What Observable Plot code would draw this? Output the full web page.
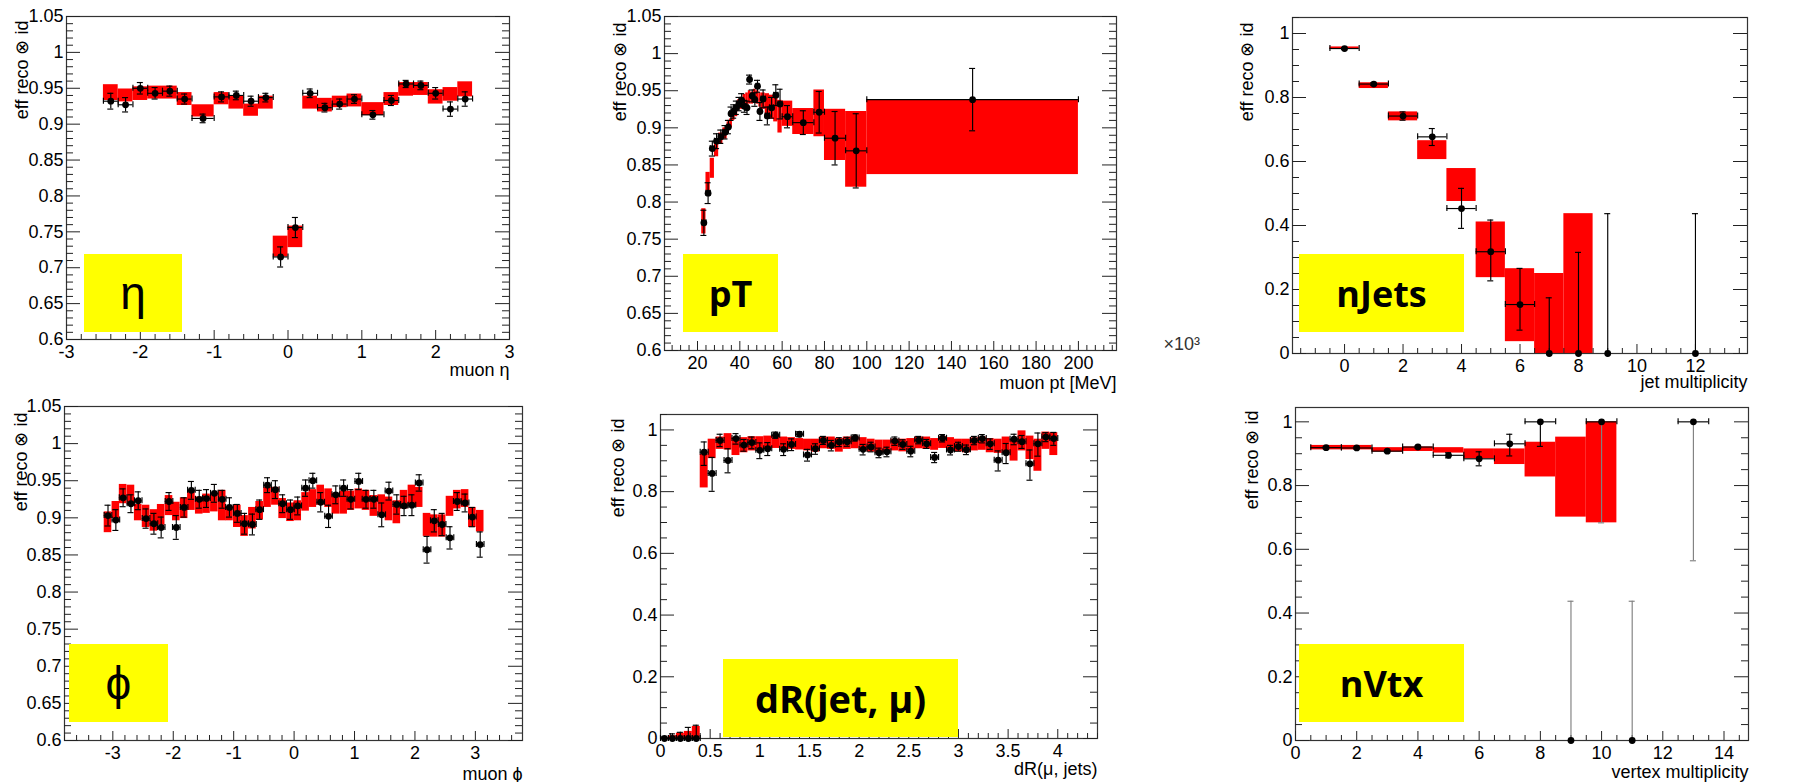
<!DOCTYPE html>
<html><head><meta charset="utf-8">
<script src="https://cdn.jsdelivr.net/npm/d3@7"></script>
<script src="https://cdn.jsdelivr.net/npm/@observablehq/plot@0.6"></script>
<style>
body{margin:0;background:#fff;}
#wrap{position:relative;width:1805px;height:782px;overflow:hidden;background:#fff;}
.pn{position:absolute;}
.tag{position:absolute;background:#ffff00;display:flex;align-items:center;justify-content:center;color:#000;z-index:5;}
.tag.w{font-family:"Open Sans",sans-serif;font-weight:700;font-size:36px;}
.tag.g{font-family:"Liberation Sans",sans-serif;font-size:46px;}
</style></head><body><div id="wrap"></div>
<script>
// ---------- eta ----------
const etaEdges = [-2.5,-2.3,-2.1,-1.9,-1.7,-1.5,-1.3,-1.0,-0.8,-0.6,-0.4,-0.2,0,0.2,0.4,0.6,0.8,1.0,1.3,1.5,1.7,1.9,2.1,2.3,2.5];
const etaBandLo = [0.933,0.931,0.933,0.935,0.935,0.926,0.910,0.927,0.921,0.911,0.921,0.715,0.728,0.921,0.917,0.923,0.924,0.912,0.926,0.939,0.940,0.928,0.932,0.938];
const etaBandHi = [0.955,0.949,0.952,0.953,0.953,0.944,0.927,0.944,0.939,0.928,0.939,0.744,0.758,0.939,0.936,0.939,0.942,0.930,0.944,0.958,0.958,0.948,0.951,0.959];
const etaVal = [0.932,0.927,0.950,0.943,0.946,0.935,0.908,0.938,0.940,0.932,0.937,0.715,0.756,0.943,0.923,0.928,0.935,0.913,0.933,0.956,0.954,0.943,0.921,0.935];
const etaErr = [0.011,0.010,0.008,0.008,0.007,0.007,0.006,0.007,0.006,0.007,0.006,0.014,0.014,0.006,0.006,0.007,0.006,0.006,0.007,0.005,0.006,0.008,0.010,0.010];

// ---------- pT (x in units of 10^3 MeV) ----------
const ptEdges = [22,24,26,28,30,32,34,35.2,36.5,37.7,39,40.2,41.5,42.8,44,45.2,46.5,47.7,49,50,52,54,56,58,60,65,75,80,90,100,200];
const ptBandLo = [0.757,0.815,0.832,0.861,0.878,0.885,0.895,0.900,0.910,0.915,0.925,0.925,0.928,0.930,0.932,0.932,0.935,0.932,0.928,0.925,0.915,0.912,0.908,0.893,0.902,0.891,0.888,0.856,0.820,0.837];
const ptBandHi = [0.791,0.840,0.859,0.883,0.893,0.900,0.908,0.912,0.925,0.930,0.938,0.941,0.945,0.947,0.950,0.948,0.952,0.950,0.947,0.947,0.946,0.944,0.944,0.937,0.936,0.926,0.951,0.925,0.922,0.938];
const ptVal = [0.772,0.812,0.872,0.882,0.888,0.894,0.901,0.919,0.922,0.927,0.932,0.937,0.929,0.927,0.965,0.943,0.938,0.956,0.922,0.939,0.916,0.927,0.944,0.932,0.915,0.907,0.921,0.886,0.869,0.938];
const ptErr = [0.017,0.014,0.010,0.010,0.009,0.009,0.009,0.009,0.009,0.009,0.009,0.009,0.008,0.009,0.006,0.008,0.009,0.008,0.012,0.012,0.012,0.014,0.014,0.020,0.015,0.016,0.028,0.036,0.050,0.042];

// ---------- nJets ----------
const njBandX = [0,1,2,3,4,5,6,7,8];
const njBandLo = [0.951,0.828,0.727,0.606,0.475,0.237,0.037,0,0];
const njBandHi = [0.958,0.846,0.755,0.665,0.578,0.411,0.265,0.250,0.437];
const njX = [0,1,2,3,4,5,6,7,8,9,12];
const njVal = [0.953,0.842,0.742,0.677,0.453,0.318,0.153,0,0,0,0];
const njErrLo = [0.003,0.004,0.013,0.027,0.062,0.091,0.080,0,0,0,0];
const njErrHi = [0.003,0.004,0.013,0.026,0.063,0.099,0.113,0.174,0.316,0.437,0.437];
const njXErr = [0.5,0.5,0.5,0.5,0.5,0.5,0.5,0,0,0,0];

// ---------- phi ----------
const phiX = [-3.08,-2.95,-2.83,-2.70,-2.58,-2.45,-2.32,-2.20,-2.07,-1.95,-1.82,-1.70,-1.57,-1.45,-1.32,-1.19,-1.07,-0.94,-0.82,-0.69,-0.57,-0.44,-0.31,-0.19,-0.06,0.06,0.19,0.31,0.44,0.57,0.69,0.82,0.94,1.07,1.19,1.32,1.45,1.57,1.70,1.82,1.95,2.07,2.20,2.32,2.45,2.58,2.70,2.83,2.95,3.08];
const phiHalf = 0.0628;
const phiBandLo = [0.880,0.899,0.919,0.917,0.896,0.887,0.882,0.890,0.903,0.896,0.899,0.910,0.905,0.906,0.908,0.896,0.896,0.887,0.875,0.885,0.897,0.914,0.917,0.899,0.895,0.896,0.909,0.914,0.917,0.914,0.905,0.905,0.910,0.912,0.910,0.902,0.904,0.896,0.892,0.912,0.917,0.914,0.875,0.874,0.874,0.902,0.912,0.914,0.887,0.881];
const phiBandHi = [0.908,0.922,0.945,0.944,0.918,0.917,0.911,0.918,0.930,0.921,0.927,0.936,0.928,0.932,0.933,0.937,0.915,0.917,0.903,0.914,0.922,0.941,0.941,0.926,0.920,0.923,0.934,0.938,0.944,0.939,0.933,0.936,0.936,0.939,0.937,0.930,0.931,0.928,0.923,0.937,0.944,0.941,0.906,0.904,0.904,0.929,0.937,0.938,0.914,0.910];
const phiVal = [0.903,0.897,0.927,0.919,0.923,0.899,0.892,0.887,0.922,0.887,0.914,0.937,0.925,0.926,0.933,0.925,0.914,0.906,0.892,0.891,0.911,0.944,0.938,0.919,0.911,0.916,0.940,0.950,0.921,0.902,0.931,0.940,0.925,0.949,0.925,0.925,0.904,0.936,0.918,0.916,0.917,0.947,0.857,0.896,0.891,0.873,0.922,0.920,0.901,0.864];
const phiErr = [0.014,0.014,0.012,0.012,0.012,0.013,0.014,0.014,0.012,0.016,0.013,0.012,0.012,0.012,0.012,0.012,0.013,0.012,0.014,0.014,0.013,0.010,0.012,0.012,0.013,0.012,0.011,0.010,0.013,0.015,0.012,0.011,0.013,0.011,0.012,0.012,0.016,0.012,0.013,0.013,0.014,0.011,0.018,0.015,0.015,0.015,0.012,0.012,0.013,0.017];

// ---------- dR ----------
const dRX = [0.04,0.12,0.2,0.28,0.36,0.44,0.52,0.6,0.68,0.76,0.84,0.92,1.0,1.08,1.16,1.24,1.32,1.4,1.48,1.56,1.64,1.72,1.8,1.88,1.96,2.04,2.12,2.2,2.28,2.36,2.44,2.52,2.6,2.68,2.76,2.84,2.92,3.0,3.08,3.16,3.24,3.32,3.4,3.48,3.56,3.64,3.72,3.8,3.88,3.96];
const dRHalf = 0.04;
const dRBandLo = [0,0,0,0,0,0.812,0.907,0.937,0.935,0.917,0.926,0.932,0.935,0.937,0.940,0.939,0.937,0.935,0.932,0.928,0.939,0.937,0.928,0.937,0.939,0.935,0.928,0.926,0.926,0.932,0.929,0.933,0.939,0.937,0.934,0.940,0.937,0.929,0.926,0.932,0.934,0.926,0.924,0.926,0.899,0.932,0.904,0.866,0.937,0.917];
const dRBandHi = [0.003,0.009,0.017,0.023,0.039,0.921,0.970,0.977,0.988,0.975,0.975,0.978,0.978,0.980,0.980,0.977,0.975,0.972,0.970,0.970,0.977,0.977,0.972,0.977,0.978,0.975,0.970,0.967,0.967,0.970,0.970,0.972,0.977,0.977,0.972,0.978,0.975,0.970,0.970,0.974,0.977,0.972,0.970,0.977,0.970,0.997,0.980,0.970,0.993,0.991];
const dRVal = [0,0,0,0,0,0.928,0.859,0.966,0.901,0.972,0.951,0.959,0.934,0.939,0.983,0.937,0.953,0.986,0.919,0.939,0.966,0.950,0.961,0.962,0.974,0.937,0.945,0.926,0.929,0.964,0.953,0.931,0.967,0.955,0.911,0.973,0.935,0.946,0.936,0.966,0.972,0.955,0.902,0.926,0.970,0.962,0.890,0.955,0.977,0.972];
const dRErrLo = [0,0,0,0,0,0.043,0.058,0.020,0.040,0.018,0.020,0.020,0.027,0.022,0.010,0.020,0.020,0.008,0.020,0.018,0.013,0.018,0.015,0.015,0.010,0.018,0.016,0.016,0.016,0.014,0.016,0.018,0.012,0.015,0.017,0.012,0.016,0.015,0.016,0.014,0.014,0.018,0.035,0.035,0.018,0.022,0.053,0.040,0.015,0.022];
const dRErrHi = [0.005,0.015,0.020,0.036,0.043,0.033,0.052,0.020,0.038,0.016,0.018,0.018,0.024,0.020,0.010,0.018,0.018,0.008,0.018,0.016,0.013,0.016,0.014,0.014,0.010,0.016,0.015,0.015,0.015,0.013,0.015,0.016,0.012,0.014,0.016,0.012,0.015,0.014,0.015,0.013,0.013,0.016,0.030,0.030,0.016,0.020,0.045,0.035,0.014,0.020];

// ---------- nVtx ----------
const nvBandX = [1,2,3,4,5,6,7,8,9,10];
const nvBandLo = [0.912,0.912,0.905,0.907,0.902,0.884,0.866,0.827,0.701,0.683];
const nvBandHi = [0.926,0.926,0.919,0.921,0.919,0.915,0.915,0.936,0.952,1.0];
const nvX = [1,2,3,4,5,6,7,8,9,10,11,13];
const nvVal = [0.919,0.918,0.908,0.921,0.895,0.884,0.931,1.0,0,1.0,0,1.0];
const nvErrLo = [0.003,0.003,0.003,0.003,0.008,0.022,0.038,0.077,0,0.317,0,0.436];
const nvErrHi = [0.003,0.003,0.003,0.003,0.008,0.022,0.030,0,0.437,0,0.437,0];
const nvXErr = [0.5,0.5,0.5,0.5,0.5,0.5,0.5,0.5,0,0.5,0,0.5];

// ---------- tick labels ----------
const yTicksFine = [0.6,0.65,0.7,0.75,0.8,0.85,0.9,0.95,1,1.05];
const yTicksUnit = [0,0.2,0.4,0.6,0.8,1];
const etaTicks = [-3,-2,-1,0,1,2,3];
const ptTicks = [20,40,60,80,100,120,140,160,180,200];
const njTicks = [0,2,4,6,8,10,12];
const phiTicks = [-3,-2,-1,0,1,2,3];
const dRTicks = [0,0.5,1,1.5,2,2.5,3,3.5,4];
const nvTicks = [0,2,4,6,8,10,12,14];
const yTitle = "eff reco \u2297 id";

const FONT = '"Liberation Sans", Arial, Helvetica, sans-serif';
const fmt = d => String(Math.round(d * 1000) / 1000);

function edgeBands(edges, lo, hi) {
  return lo.map((l, i) => ({x1: edges[i], x2: edges[i + 1], lo: l, hi: hi[i]}));
}
function edgePoints(edges, val, err) {
  return val.map((v, i) => ({x: (edges[i] + edges[i + 1]) / 2, y: v, lo: err[i], hi: err[i], xe: (edges[i + 1] - edges[i]) / 2}));
}
function minorTicks(domain, step, majors) {
  const out = [];
  const s = Math.ceil(domain[0] / step - 1e-6), e = Math.floor(domain[1] / step + 1e-6);
  for (let k = s; k <= e; k++) {
    const v = +(k * step).toFixed(6);
    if (!majors.some(m => Math.abs(m - v) < 1e-6)) out.push(v);
  }
  return out;
}

function buildPanel(c) {
  const fw = c.width - c.mL - c.mR, fh = c.height - c.mT - c.mB;
  const xCap = 3 * (c.xDomain[1] - c.xDomain[0]) / fw;
  const yCap = 3 * (c.yDomain[1] - c.yDomain[0]) / fh;
  const xMinor = minorTicks(c.xDomain, c.xMinorStep, c.xMajor);
  const yMinor = minorTicks(c.yDomain, c.yMinorStep, c.yMajor);
  const tc = "#222";
  const isGrey = d => c.greyLong && d.lo + d.hi > 0.3;
  const vBars = c.points.filter(d => d.lo + d.hi > 0);
  const vBlack = vBars.filter(d => !isGrey(d)), vGrey = vBars.filter(isGrey);
  const hBars = c.points.filter(d => d.xe > 0);
  const eb = {strokeWidth: 1.15};
  const vMarks = (arr, col) => [
    Plot.ruleX(arr, {x: "x", y1: d => d.y - d.lo, y2: d => d.y + d.hi, stroke: col, ...eb}),
    Plot.ruleY(arr.filter(d => d.hi > 0), {y: d => d.y + d.hi, x1: d => d.x - xCap, x2: d => d.x + xCap, stroke: col, ...eb}),
    Plot.ruleY(arr.filter(d => d.lo > 0), {y: d => d.y - d.lo, x1: d => d.x - xCap, x2: d => d.x + xCap, stroke: col, ...eb})
  ];
  const marks = [
    Plot.rect(c.bands, {x1: "x1", x2: "x2", y1: "lo", y2: "hi", fill: "#ff0000"}),
    Plot.frame({stroke: "#333", strokeWidth: 1.2}),
    Plot.tickY(c.yMajor, {y: d => d, insetRight: fw - 14, stroke: tc}),
    Plot.tickY(c.yMajor, {y: d => d, insetLeft: fw - 14, stroke: tc}),
    Plot.tickY(yMinor, {y: d => d, insetRight: fw - 7, stroke: tc}),
    Plot.tickY(yMinor, {y: d => d, insetLeft: fw - 7, stroke: tc}),
    Plot.tickX(c.xMajor, {x: d => d, insetTop: fh - 9, stroke: tc}),
    Plot.tickX(xMinor, {x: d => d, insetTop: fh - 5, stroke: tc}),
    Plot.axisY({ticks: c.yMajor, tickSize: 0, tickPadding: 3, tickFormat: fmt, label: null, fontSize: 18}),
    Plot.axisX({ticks: c.xMajor, tickSize: 0, tickPadding: 6, tickFormat: fmt, label: null, fontSize: 18}),
    Plot.ruleY(hBars, {y: "y", x1: d => d.x - d.xe, x2: d => d.x + d.xe, stroke: "#000", ...eb}),
    Plot.ruleX(hBars, {x: d => d.x - d.xe, y1: d => d.y - yCap, y2: d => d.y + yCap, stroke: "#000", ...eb}),
    Plot.ruleX(hBars, {x: d => d.x + d.xe, y1: d => d.y - yCap, y2: d => d.y + yCap, stroke: "#000", ...eb}),
    ...vMarks(vBlack, "#000"),
    ...vMarks(vGrey, "#808080"),
    Plot.dot(c.points, {x: "x", y: "y", r: 3.4, fill: "#000", stroke: "none"}),
    Plot.text([yTitle], {frameAnchor: "top-left", rotate: -90, textAnchor: "end", lineAnchor: "bottom", dx: c.yTitleX - c.mL, dy: c.yTitleY - c.mT, fontSize: 18}),
    Plot.text([c.xTitle], {frameAnchor: "bottom-right", textAnchor: "end", lineAnchor: "bottom", dy: c.xTitleY - (c.height - c.mB), fontSize: 18})
  ];
  if (c.extra) marks.push(...c.extra);
  const svg = Plot.plot({
    width: c.width, height: c.height,
    marginLeft: c.mL, marginRight: c.mR, marginTop: c.mT, marginBottom: c.mB,
    x: {domain: c.xDomain}, y: {domain: c.yDomain},
    style: {fontFamily: FONT, fontSize: "18px", background: "transparent", overflow: "visible", color: "#000"},
    marks
  });
  svg.classList.add("pn");
  svg.style.left = c.left + "px";
  svg.style.top = c.top + "px";
  svg.style.position = "absolute";
  return svg;
}

const wrap = document.getElementById("wrap");

const panels = [
  {left: 0, top: 0, width: 560, height: 395, mL: 66, mR: 51, mT: 16, mB: 56,
   xDomain: [-3, 3], yDomain: [0.6, 1.05], xMajor: etaTicks, xMinorStep: 0.2, yMajor: yTicksFine, yMinorStep: 0.01,
   bands: edgeBands(etaEdges, etaBandLo, etaBandHi), points: edgePoints(etaEdges, etaVal, etaErr),
   xTitle: "muon \u03b7", xTitleY: 375, yTitleX: 27, yTitleY: 20},
  {left: 600, top: 0, width: 605, height: 395, mL: 64, mR: 89, mT: 16, mB: 45,
   xDomain: [4.4, 218], yDomain: [0.6, 1.05], xMajor: ptTicks, xMinorStep: 4, yMajor: yTicksFine, yMinorStep: 0.01,
   bands: edgeBands(ptEdges, ptBandLo, ptBandHi), points: edgePoints(ptEdges, ptVal, ptErr),
   xTitle: "muon pt [MeV]", xTitleY: 388, yTitleX: 25, yTitleY: 22,
   extra: [Plot.text(["\u00d710\u00b3"], {frameAnchor: "bottom-right", textAnchor: "start", lineAnchor: "bottom", dx: 47, dy: -1, fontSize: 18, fill: "#333"})]},
  {left: 1235, top: 0, width: 570, height: 395, mL: 57, mR: 58, mT: 17, mB: 42,
   xDomain: [-1.78, 13.78], yDomain: [0, 1.05], xMajor: njTicks, xMinorStep: 0.5, yMajor: yTicksUnit, yMinorStep: 0.05,
   bands: njBandX.map((x, i) => ({x1: x - 0.5, x2: x + 0.5, lo: njBandLo[i], hi: njBandHi[i]})),
   points: njX.map((x, i) => ({x, y: njVal[i], lo: njErrLo[i], hi: njErrHi[i], xe: njXErr[i]})),
   xTitle: "jet multiplicity", xTitleY: 387, yTitleX: 17, yTitleY: 22},
  {left: 0, top: 391, width: 570, height: 391, mL: 64, mR: 48, mT: 15, mB: 42,
   xDomain: [-3.8, 3.78], yDomain: [0.6, 1.05], xMajor: phiTicks, xMinorStep: 0.2, yMajor: yTicksFine, yMinorStep: 0.01,
   bands: phiX.map((x, i) => ({x1: x - phiHalf, x2: x + phiHalf, lo: phiBandLo[i], hi: phiBandHi[i]})),
   points: phiX.map((x, i) => ({x, y: phiVal[i], lo: phiErr[i], hi: phiErr[i], xe: phiHalf})),
   xTitle: "muon \u03d5", xTitleY: 388, yTitleX: 26, yTitleY: 21},
  {left: 600, top: 391, width: 570, height: 391, mL: 60, mR: 73, mT: 23, mB: 44,
   xDomain: [0, 4.4], yDomain: [0, 1.05], xMajor: dRTicks, xMinorStep: 0.1, yMajor: yTicksUnit, yMinorStep: 0.05,
   bands: dRX.map((x, i) => ({x1: x - dRHalf, x2: x + dRHalf, lo: dRBandLo[i], hi: dRBandHi[i]})),
   points: dRX.map((x, i) => ({x, y: dRVal[i], lo: dRErrLo[i], hi: dRErrHi[i], xe: dRHalf})),
   xTitle: "dR(\u03bc, jets)", xTitleY: 383, yTitleX: 23, yTitleY: 27},
  {left: 1235, top: 391, width: 570, height: 391, mL: 60, mR: 57, mT: 16, mB: 42,
   xDomain: [0, 14.8], yDomain: [0, 1.045], xMajor: nvTicks, xMinorStep: 0.5, yMajor: yTicksUnit, yMinorStep: 0.05,
   bands: nvBandX.map((x, i) => ({x1: x - 0.5, x2: x + 0.5, lo: nvBandLo[i], hi: nvBandHi[i]})),
   points: nvX.map((x, i) => ({x, y: nvVal[i], lo: nvErrLo[i], hi: nvErrHi[i], xe: nvXErr[i]})),
   xTitle: "vertex multiplicity", xTitleY: 386, yTitleX: 22, yTitleY: 19, greyLong: true}
];
panels.forEach(p => wrap.appendChild(buildPanel(p)));

const tags = [
  {text: "\u03b7", cls: "g", left: 84, top: 254, w: 98, h: 78},
  {text: "pT", cls: "w", left: 683, top: 254, w: 95, h: 78},
  {text: "nJets", cls: "w", left: 1299, top: 254, w: 165, h: 78},
  {text: "\u03d5", cls: "g", left: 69, top: 644, w: 99, h: 78},
  {text: "dR(jet, \u03bc)", cls: "w", left: 723, top: 659, w: 235, h: 78},
  {text: "nVtx", cls: "w", left: 1299, top: 644, w: 165, h: 78}
];
tags.forEach(t => {
  const d = document.createElement("div");
  d.className = "tag " + t.cls;
  d.textContent = t.text;
  Object.assign(d.style, {left: t.left + "px", top: t.top + "px", width: t.w + "px", height: t.h + "px"});
  if (t.text.startsWith("dR")) d.style.fontSize = "38px";
  wrap.appendChild(d);
});
</script></body></html>
